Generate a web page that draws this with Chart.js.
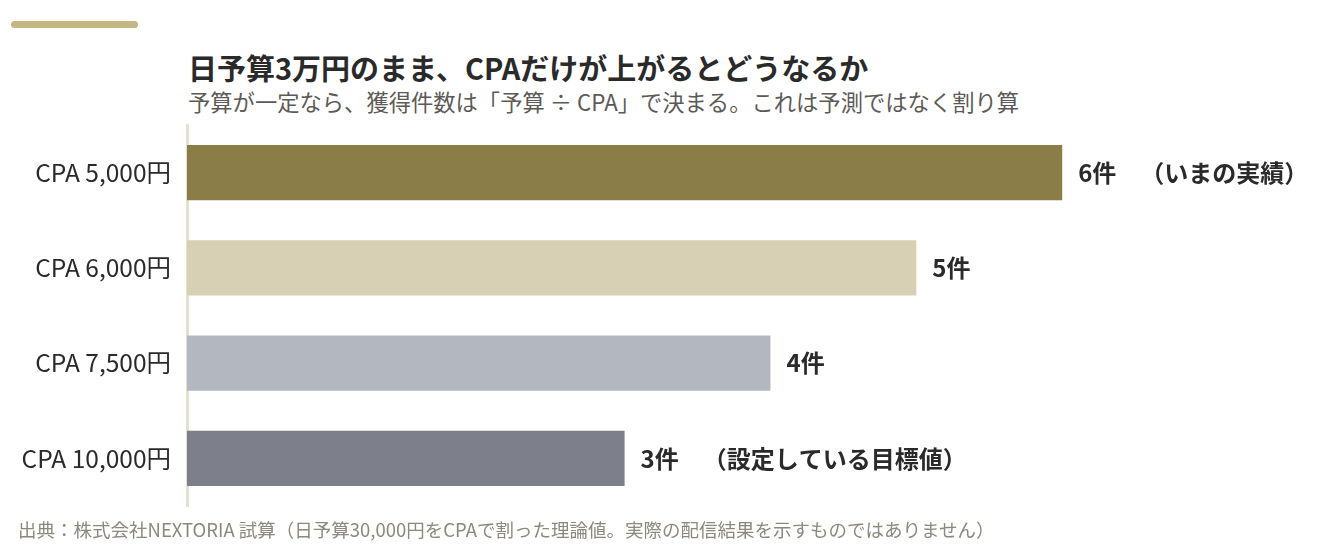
<!DOCTYPE html>
<html lang="ja">
<head>
<meta charset="utf-8">
<script src="https://cdn.jsdelivr.net/npm/chart.js@4"></script>
<style>
  html, body { margin: 0; padding: 0; background: #ffffff; }
  body { width: 1344px; height: 546px; position: relative; overflow: hidden;
         font-family: "Noto Sans CJK JP", "Noto Sans", sans-serif; }
  .accent { position: absolute; left: 11px; top: 21px; width: 127px; height: 7px;
            border-radius: 4px; background: #c4b784; }
  .title { position: absolute; left: 188px; top: 50px; margin: 0; white-space: nowrap;
           font-size: 29px; font-weight: 700; color: #2a2a2a; line-height: 1.2; }
  .subtitle { position: absolute; left: 188px; top: 88px; margin: 0; white-space: nowrap;
              font-size: 22.3px; color: #5c5a56; line-height: 1.2; }
  .source { position: absolute; left: 18px; top: 518px; margin: 0; white-space: nowrap;
            font-size: 18.5px; color: #8d887e; line-height: 1.2; }
  .wrap { position: absolute; left: 0; top: 0; width: 1344px; height: 546px; }
</style>
</head>
<body>
<div class="accent"></div>
<h1 class="title">日予算3万円のまま、CPAだけが上がるとどうなるか</h1>
<p class="subtitle">予算が一定なら、獲得件数は「予算 ÷ CPA」で決まる。これは予測ではなく割り算</p>
<div class="wrap"><canvas id="cpaChart"></canvas></div>
<p class="source">出典：株式会社NEXTORIA 試算（日予算30,000円をCPAで割った理論値。実際の配信結果を示すものではありません）</p>

<script>
// --- DATA ---
const categories = ['CPA 5,000円', 'CPA 6,000円', 'CPA 7,500円', 'CPA 10,000円'];
const counts = [6, 5, 4, 3];
const notes = ['（いまの実績）', '', '', '（設定している目標値）'];
const barColors = ['#8b7d47', '#d8d0b4', '#b3b7bf', '#7d808a'];

const FONT = '"Noto Sans CJK JP", "Noto Sans", sans-serif';

// value labels at the end of each bar: "6件　（いまの実績）"
const valueLabels = {
    id: 'valueLabels',
    afterDatasetsDraw(chart) {
        const ctx = chart.ctx;
        const meta = chart.getDatasetMeta(0);
        ctx.save();
        ctx.fillStyle = '#2a2a2a';
        ctx.textBaseline = 'middle';
        ctx.textAlign = 'left';
        ctx.font = `700 24px ${FONT}`;
        meta.data.forEach((bar, i) => {
            const x = bar.x + 16;
            const main = counts[i] + '件';
            ctx.fillText(main, x, bar.y);
            if (notes[i]) {
                const w = ctx.measureText(main + '　').width;
                ctx.fillText(notes[i], x + w, bar.y);
            }
        });
        ctx.restore();
    }
};

const ctx = document.getElementById('cpaChart').getContext('2d');
new Chart(ctx, {
    type: 'bar',
    data: {
        labels: categories,
        datasets: [{
            data: counts,
            backgroundColor: barColors,
            borderWidth: 0,
            barPercentage: 0.58,
            categoryPercentage: 1.0
        }]
    },
    options: {
        indexAxis: 'y',
        responsive: true,
        maintainAspectRatio: false,
        animation: false,
        layout: { padding: { left: 0, top: 125, right: 63, bottom: 40 } },
        plugins: {
            legend: { display: false },
            tooltip: { enabled: false }
        },
        scales: {
            x: { display: false, min: 0, max: 7.5 },
            y: {
                grid: { display: false, drawTicks: false },
                border: { display: true, color: '#e6e1cc', width: 3 },
                ticks: {
                    color: '#2a2a2a',
                    padding: 16,
                    font: { family: FONT, size: 24.5 }
                },
                afterFit(scale) { scale.width = 187; }
            }
        }
    },
    plugins: [valueLabels]
});
</script>
</body>
</html>
